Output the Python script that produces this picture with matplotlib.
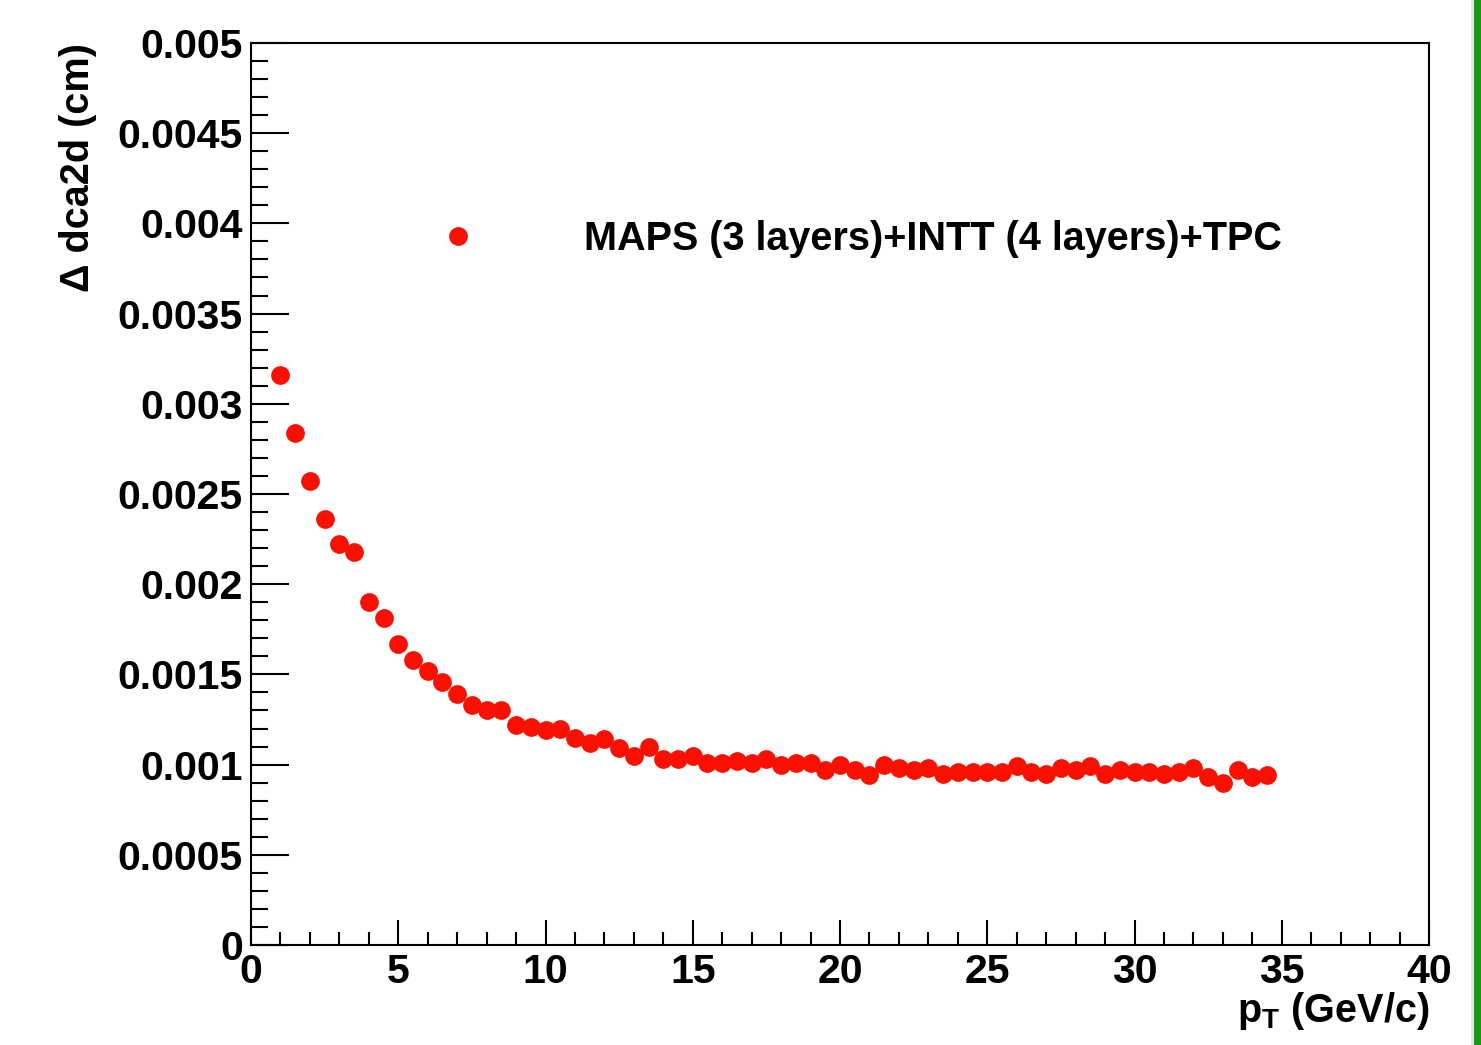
import matplotlib
matplotlib.use("Agg")
import matplotlib.pyplot as plt
from matplotlib.ticker import MultipleLocator, FuncFormatter
from matplotlib.lines import Line2D
from matplotlib.patches import Rectangle

# pT bin centres (GeV/c) and the dca2d resolution (cm)
pt = [1.0, 1.5, 2.0, 2.5, 3.0, 3.5, 4.0, 4.5, 5.0, 5.5,
      6.0, 6.5, 7.0, 7.5, 8.0, 8.5, 9.0, 9.5, 10.0, 10.5,
      11.0, 11.5, 12.0, 12.5, 13.0, 13.5, 14.0, 14.5, 15.0, 15.5,
      16.0, 16.5, 17.0, 17.5, 18.0, 18.5, 19.0, 19.5, 20.0, 20.5,
      21.0, 21.5, 22.0, 22.5, 23.0, 23.5, 24.0, 24.5, 25.0, 25.5,
      26.0, 26.5, 27.0, 27.5, 28.0, 28.5, 29.0, 29.5, 30.0, 30.5,
      31.0, 31.5, 32.0, 32.5, 33.0, 33.5, 34.0, 34.5]
dca2d = [0.00316, 0.00284, 0.00257, 0.00236, 0.00222, 0.00218, 0.00190, 0.00181, 0.00167, 0.00158,
         0.00152, 0.00146, 0.00139, 0.00133, 0.00130, 0.00130, 0.00122, 0.00121, 0.00119, 0.00120,
         0.00115, 0.00112, 0.00114, 0.00109, 0.00105, 0.00110, 0.00103, 0.00103, 0.00105, 0.00101,
         0.00101, 0.00102, 0.00101, 0.00103, 0.00100, 0.00101, 0.00101, 0.00097, 0.00100, 0.00097,
         0.00094, 0.00100, 0.00098, 0.00097, 0.00098, 0.00095, 0.00096, 0.00096, 0.00096, 0.00096,
         0.00099, 0.00096, 0.00095, 0.00098, 0.00097, 0.00099, 0.00095, 0.00097, 0.00096, 0.00096,
         0.00095, 0.00096, 0.00098, 0.00093, 0.00090, 0.00097, 0.00093, 0.00094]
series_label = "MAPS (3 layers)+INTT (4 layers)+TPC"

plt.rcParams['font.family'] = ['Liberation Sans', 'DejaVu Sans']
plt.rcParams['font.weight'] = 'bold'
plt.rcParams['mathtext.fontset'] = 'custom'
plt.rcParams['mathtext.rm'] = 'Liberation Sans:bold'
plt.rcParams['mathtext.it'] = 'Liberation Sans:bold'
plt.rcParams['mathtext.bf'] = 'Liberation Sans:bold'

fs = 28.5
red = '#fa1000'

fig = plt.figure(figsize=(14.81, 10.45), dpi=100)
ax = fig.add_axes([0.1695, 0.0957, 0.9649 - 0.1695, 0.9589 - 0.0957])

ax.plot(pt, dca2d, 'o', color=red, markersize=13.5, markeredgewidth=0)

ax.set_xlim(0, 40)
ax.set_ylim(0, 0.005)

# ROOT-like ticks: inside, only on left and bottom
ax.xaxis.set_major_locator(MultipleLocator(5))
ax.xaxis.set_minor_locator(MultipleLocator(1))
ax.yaxis.set_major_locator(MultipleLocator(0.0005))
ax.yaxis.set_minor_locator(MultipleLocator(0.0001))
ax.yaxis.set_major_formatter(FuncFormatter(lambda v, p: '%g' % v))
ax.tick_params(axis='both', which='both', direction='in', top=False, right=False,
               labelsize=29.5, width=1.5)
ax.tick_params(axis='y', which='major', length=27, pad=6)
ax.tick_params(axis='y', which='minor', length=12.5)
ax.tick_params(axis='x', which='major', length=18, pad=6)
ax.tick_params(axis='x', which='minor', length=9.5)

for s in ax.spines.values():
    s.set_linewidth(1.5)
    s.set_color('black')

ax.set_xlabel(r'p$_{\mathrm{T}}$ (GeV/c)', fontsize=fs, fontweight='bold', loc='right')
ax.xaxis.set_label_coords(1.0, -0.05)
ax.set_ylabel('\u0394 dca2d (cm)', fontsize=fs, fontweight='bold', loc='top')
ax.yaxis.set_label_coords(-0.131, 1.0)

handle = Line2D([], [], linestyle='none', marker='o', color=red,
                markersize=13.5, markeredgewidth=0)
ax.legend([handle], [series_label], loc='center left', bbox_to_anchor=(0.1418, 0.783),
          frameon=False, fontsize=fs, handlelength=2, handletextpad=2.2,
          borderpad=0, borderaxespad=0)

# screenshot edge on the right
fig.add_artist(Rectangle((1471 / 1481, 0), 3 / 1481, 1, transform=fig.transFigure,
                         color='#e6e6e6', lw=0))
fig.add_artist(Rectangle((1474 / 1481, 0), 7 / 1481, 1, transform=fig.transFigure,
                         color='#1a961a', lw=0))

fig.savefig('out.png', dpi=100)
